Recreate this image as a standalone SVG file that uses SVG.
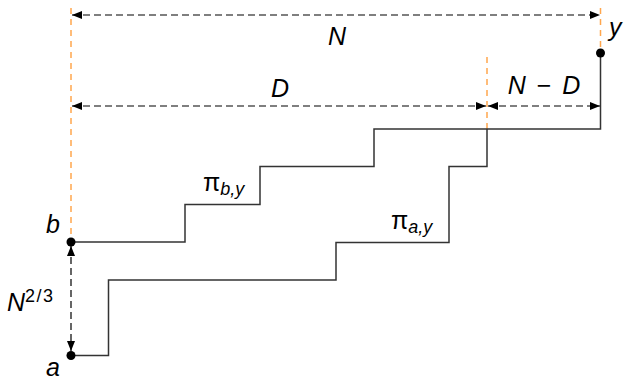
<svg xmlns="http://www.w3.org/2000/svg" width="625" height="381" viewBox="0 0 625 381">
<style>
.guide{stroke:#FFA64D;stroke-width:1.5;stroke-dasharray:6 5;fill:none}
.dim{stroke:#000;stroke-width:1.2;stroke-dasharray:7 4;fill:none}
.path{stroke:#333;stroke-width:1.5;fill:none}
.lbl{font-family:"Liberation Sans",Arial,sans-serif;font-size:25px;font-style:italic;fill:#000}
.sub{font-size:18px}
.pi{font-style:normal}
</style>
<defs>
<marker id="ah" viewBox="0 0 10 8" refX="10" refY="4" markerWidth="10" markerHeight="8" markerUnits="userSpaceOnUse" orient="auto-start-reverse">
<path d="M0,0 L10,4 L0,8 Z" fill="#000"/>
</marker>
</defs>
<g id="guides">
<line class="guide" x1="71" y1="8" x2="71" y2="240"/>
<line class="guide" x1="487" y1="57" x2="487" y2="130"/>
<line class="guide" x1="600.5" y1="8" x2="600.5" y2="52"/>
</g>
<g id="connectors">
<line class="dim" x1="72" y1="15" x2="600" y2="15" marker-start="url(#ah)" marker-end="url(#ah)"/>
<line class="dim" x1="72" y1="106" x2="486" y2="106" marker-start="url(#ah)" marker-end="url(#ah)"/>
<line class="dim" x1="488" y1="106" x2="600" y2="106" marker-start="url(#ah)" marker-end="url(#ah)"/>
<line class="dim" x1="71" y1="246" x2="71" y2="351" marker-start="url(#ah)" marker-end="url(#ah)"/>
<path id="path-by" class="path" d="M71,242 H185 V204.5 H260 V166.5 H374 V129 H600.5 V53"/>
<path id="path-ay" class="path" d="M71,355.5 H108.5 V280 H336 V242.5 H449 V166.5 H487 V129"/>
</g>
<g id="node-b">
<circle cx="71" cy="242" r="4.5" fill="#000"/>
<text class="lbl" x="46" y="233">b</text>
</g>
<g id="node-a">
<circle cx="71" cy="355.5" r="4.5" fill="#000"/>
<text class="lbl" x="46" y="376">a</text>
</g>
<g id="node-y">
<circle cx="600.5" cy="53" r="4.5" fill="#000"/>
<text class="lbl" x="609" y="36">y</text>
</g>
<g id="labels">
<text class="lbl" x="337" y="45" text-anchor="middle">N</text>
<text class="lbl" x="280" y="97" text-anchor="middle">D</text>
<text class="lbl" x="544" y="94" text-anchor="middle" word-spacing="4">N <tspan class="pi">−</tspan> D</text>
<text class="lbl" x="7" y="311">N<tspan class="sub pi" dy="-9" letter-spacing="1.5">2/3</tspan></text>
<text class="lbl pi" x="203" y="191">π<tspan class="sub" style="font-style:italic" dy="4">b,y</tspan></text>
<text class="lbl pi" x="391" y="229">π<tspan class="sub" style="font-style:italic" dy="4">a,y</tspan></text>
</g>
</svg>
